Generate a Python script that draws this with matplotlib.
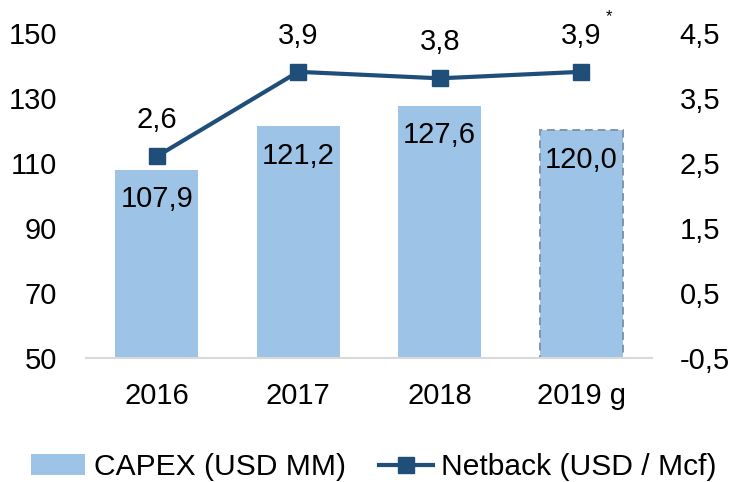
import matplotlib.pyplot as plt
import numpy as np

plt.rcParams['font.family'] = ['Liberation Sans', 'DejaVu Sans']

years = ["2016", "2017", "2018", "2019 g"]
capex = [107.9, 121.2, 127.6, 120.0]
netback = [2.6, 3.9, 3.8, 3.9]
left_ticks = [50, 70, 90, 110, 130, 150]
right_ticks = [-0.5, 0.5, 1.5, 2.5, 3.5, 4.5]

BAR = "#9DC3E6"
LINE = "#1F4E79"
FS = 21


def comma(v):
    return f"{v:.1f}".replace(".", ",")


fig = plt.figure(figsize=(7.35, 4.82), dpi=100)
ax = fig.add_axes([0.117, 0.257, 0.770, 0.675])
x = np.arange(len(years))

bars = ax.bar(x, [c - 50 for c in capex], bottom=50, width=0.585, color=BAR,
              label="CAPEX (USD MM)", zorder=2)
# forecast year gets a dashed outline
bars[-1].set_edgecolor("#7F96AC")
bars[-1].set_linestyle((0, (4, 2.5)))
bars[-1].set_linewidth(1.4)

ax.set_xlim(-0.5, len(years) - 0.5)
ax.set_ylim(50, 150)
ax.set_yticks(left_ticks)
ax.set_xticks(x)
ax.set_xticklabels(years)
ax.tick_params(axis="both", length=0, labelsize=FS)
ax.tick_params(axis="x", pad=17)
ax.tick_params(axis="y", pad=21)
for side in ["top", "right", "left"]:
    ax.spines[side].set_visible(False)
ax.spines["bottom"].set_color("#D9D9D9")
ax.spines["bottom"].set_linewidth(1.5)

for xi, c in zip(x, capex):
    ax.annotate(comma(c), (xi, c), xytext=(0, -21), textcoords="offset points",
                ha="center", va="center", fontsize=FS, zorder=4)

ax2 = ax.twinx()
ax2.set_ylim(-0.5, 4.5)
ax2.set_yticks(right_ticks)
ax2.set_yticklabels([comma(t) for t in right_ticks])
ax2.tick_params(axis="y", length=0, labelsize=FS, pad=20)
for side in ["top", "right", "left", "bottom"]:
    ax2.spines[side].set_visible(False)

ax2.plot(x, netback, color=LINE, linewidth=3, marker="s", markersize=12,
         label="Netback (USD / Mcf)", zorder=3)
for xi, v in zip(x, netback):
    ax2.annotate(comma(v), (xi, v), xytext=(0, 26), textcoords="offset points",
                 ha="center", va="center", fontsize=FS)
ax2.annotate("*", (x[-1], netback[-1]), xytext=(20, 40), textcoords="offset points",
             ha="center", va="center", fontsize=12)

h1, l1 = ax.get_legend_handles_labels()
h2, l2 = ax2.get_legend_handles_labels()
fig.legend(h1 + h2, l1 + l2, loc="center", bbox_to_anchor=(0.509, 0.031), ncol=2,
           frameon=False, fontsize=21.6, handlelength=1.8, handletextpad=0.28,
           columnspacing=1.1, borderpad=0, borderaxespad=0)

fig.savefig("out.png", dpi=100)
